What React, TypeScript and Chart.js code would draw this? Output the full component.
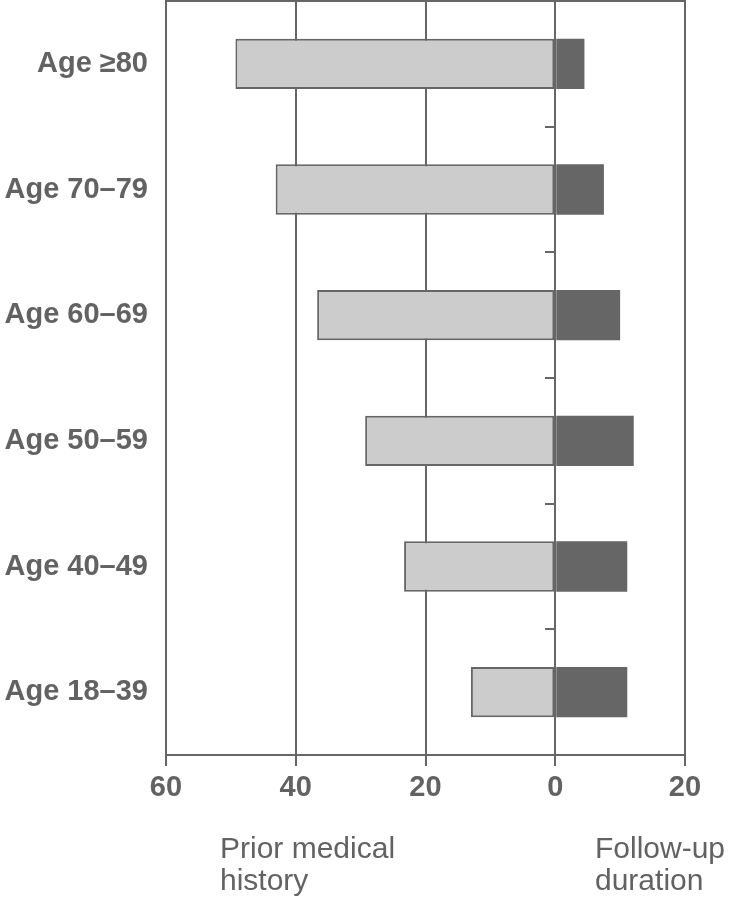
import React, { useEffect, useRef } from "react";
import { Chart, registerables } from "chart.js";

Chart.register(...registerables);

const categories = ["Age \u226580", "Age 70\u201379", "Age 60\u201369", "Age 50\u201359", "Age 40\u201349", "Age 18\u201339"];
const priorMedicalHistory = [49.3, 43.1, 36.7, 29.3, 23.3, 13.0];
const followUpDuration = [4.5, 7.5, 10.0, 12.1, 11.1, 11.1];
const xTicks = [-60, -40, -20, 0, 20];

const GREY = "#666666";
const TEXT = "#626262";
const FONT = "'Liberation Sans', Arial, Helvetica, sans-serif";

export default function App() {
  const ref = useRef<HTMLCanvasElement | null>(null);

  useEffect(() => {
    if (!ref.current) return;
    const chart = new Chart(ref.current, {
      type: "bar",
      data: {
        labels: categories,
        datasets: [
          {
            label: "Prior medical history",
            data: priorMedicalHistory.map((v) => -v),
            backgroundColor: "#cccccc",
            borderColor: GREY,
            borderWidth: 2,
            borderSkipped: false,
            barPercentage: 0.4,
            categoryPercentage: 1,
            xAxisID: "x",
            yAxisID: "y",
          },
          {
            label: "Follow-up duration",
            data: followUpDuration,
            backgroundColor: GREY,
            borderWidth: 0,
            barPercentage: 0.4,
            categoryPercentage: 1,
            xAxisID: "x",
            yAxisID: "y",
          },
        ],
      },
      options: {
        indexAxis: "y",
        responsive: false,
        animation: false,
        maintainAspectRatio: false,
        layout: { autoPadding: false, padding: { top: 1, right: 45, left: 0, bottom: 0 } },
        plugins: { legend: { display: false }, tooltip: { enabled: false } },
        scales: {
          x: {
            type: "linear",
            position: "bottom",
            stacked: true,
            min: -60,
            max: 20,
            afterBuildTicks: (scale: any) => {
              scale.ticks = xTicks.map((v) => ({ value: v }));
            },
            afterFit: (scale: any) => {
              scale.height = 145;
              scale.paddingLeft = 0;
              scale.paddingRight = 0;
            },
            grid: { color: GREY, lineWidth: 2, tickLength: 11, drawTicks: true },
            border: { display: true, color: GREY, width: 2 },
            ticks: {
              color: TEXT,
              padding: 5,
              font: { family: FONT, size: 29, weight: "bold" },
              callback: (v: any) => String(Math.abs(Number(v))),
            },
          },
          x2: {
            type: "linear",
            axis: "x",
            position: "top",
            min: -60,
            max: 20,
            afterFit: (scale: any) => {
              scale.height = 0;
              scale.paddingLeft = 0;
              scale.paddingRight = 0;
            },
            grid: { display: false },
            ticks: { display: false },
            border: { display: true, color: GREY, width: 2 },
          },
          y: {
            type: "category",
            position: "left",
            stacked: true,
            afterFit: (scale: any) => {
              scale.width = 166;
              scale.paddingTop = 0;
              scale.paddingBottom = 0;
            },
            grid: { display: false },
            border: { display: true, color: GREY, width: 2 },
            ticks: {
              color: TEXT,
              padding: 10,
              font: { family: FONT, size: 29, weight: "bold" },
            },
          },
          y2: {
            type: "category",
            axis: "y",
            position: { x: 0 },
            offset: true,
            afterFit: (scale: any) => {
              scale.width = 0;
              scale.paddingTop = 0;
              scale.paddingBottom = 0;
            },
            grid: { offset: true, drawOnChartArea: false, drawTicks: true, tickLength: 10, color: GREY, lineWidth: 2 },
            border: { display: false },
            ticks: { display: false },
          },
        },
      } as any,
    });
    return () => chart.destroy();
  }, []);

  const labelStyle: React.CSSProperties = {
    position: "absolute",
    fontFamily: FONT,
    fontSize: 30,
    lineHeight: "32px",
    color: TEXT,
    whiteSpace: "pre",
  };

  return (
    <div style={{ position: "absolute", left: 0, top: 0, width: 730, height: 900, background: "#fff" }}>
      <canvas ref={ref} width={730} height={900} style={{ display: "block", width: 730, height: 900 }} />
      <div style={{ ...labelStyle, left: 220, top: 832 }}>{"Prior medical\nhistory"}</div>
      <div style={{ ...labelStyle, left: 595, top: 832 }}>{"Follow-up\nduration"}</div>
    </div>
  );
}
